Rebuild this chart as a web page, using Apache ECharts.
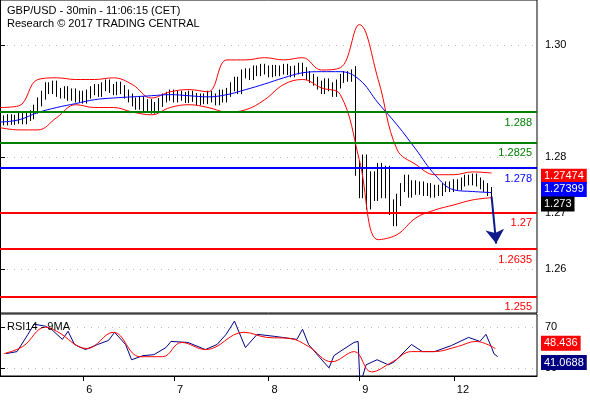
<!DOCTYPE html>
<html><head><meta charset="utf-8">
<script src="https://cdn.jsdelivr.net/npm/echarts@6/dist/echarts.min.js"></script>
<style>html,body{margin:0;background:#fff}#c{width:590px;height:400px}</style>
</head><body><div id="c"></div>
<script>
// 30 min bars, index 0..142 (day labels at fixed bar indices)
const dayTicks = {22: '6', 46: '7', 71: '8', 95: '9', 120: '12'};
const closes = [
  1.2866,1.2864,1.2868,1.2865,1.2867,1.2870,1.2866,1.2872,1.2875,
  1.2885,1.2898,1.2910,1.2925,1.2920,1.2928,1.2915,
  1.2912,1.2918,1.2908,1.2914,1.2905,1.2910,1.2903,1.2912,1.2918,1.2922,1.2915,1.2925,
  1.2930,1.2922,1.2918,1.2926,1.2920,1.2912,
  1.2905,1.2898,1.2892,1.2900,1.2888,1.2895,1.2885,1.2890,1.2897,1.2905,
  1.2908,1.2912,1.2905,1.2910,1.2908,1.2904,1.2910,1.2906,1.2900,1.2905,
  1.2902,1.2910,1.2905,1.2900,1.2912,1.2905,1.2915,1.2925,
  1.2935,1.2920,1.2948,
  1.2950,1.2945,1.2955,1.2952,1.2958,1.2955,1.2950,1.2956,1.2952,1.2955,1.2958,1.2954,1.2950,1.2955,1.2960,1.2952,
  1.2945,1.2940,1.2935,1.2928,1.2920,1.2932,1.2925,1.2915,
  1.2930,1.2940,1.2945,1.2942,1.2948,
  1.2780,1.2740,1.2790,1.2720,1.2760,1.2735,1.2775,1.2740,1.2770,1.2710,1.2690,
  1.2720,1.2745,1.2760,1.2735,1.2750,1.2740,1.2748,1.2738,1.2745,1.2735,1.2742,1.2738,1.2745,
  1.2748,1.2745,1.2752,1.2748,1.2755,1.2760,1.2757,1.2762,1.2755,1.2750,1.2745,1.2738,1.2732
];
const bandIdx = [0,5,10,15,20,25,30,35,40,45,50,55,60,65,70,75,80,85,90,95,100,105,110,115,120,125,130];
const maVals = [1.2862,1.2866,1.2879,1.2888,1.2895,1.2902,1.2905,1.2907,1.2909,1.2911,1.2909,1.2907,1.2911,
  1.2920,1.2930,1.2941,1.2950,1.2952,1.2952,1.2938,1.2896,1.2857,1.2813,1.2768,1.2741,1.2738,1.2736];
const upperVals = [1.2888,1.2891,1.2938,1.2941,1.2938,1.2938,1.2941,1.2929,1.2905,1.2916,1.2920,1.2916,1.2973,
  1.2973,1.2977,1.2973,1.2977,1.2955,1.2959,1.3036,1.2938,1.2813,1.2786,1.2768,1.2768,1.2773,1.2771];
const lowerVals = [1.2852,1.2848,1.2848,1.2870,1.2893,1.2888,1.2888,1.2880,1.2875,1.2888,1.2893,1.2888,1.2880,
  1.2884,1.2902,1.2929,1.2938,1.2923,1.2911,1.2795,1.2652,1.2661,1.2691,1.2705,1.2714,1.2723,1.2727];
const greenLevels = [1.288, 1.2825];
const blueLevels = [1.278];
const redLevels = [1.27, 1.2635, 1.255];
const priceTicks = [1.26, 1.27, 1.28, 1.30];

const rsiIdx = [1.6,4.5,7.4,9,12,13.6,16.5,18,19.7,22.6,25.8,28.7,30.3,33.2,34.8,37.8,40.7,43.9,45.2,49.7,54.3,57.4,59.8,62,
  64.9,68,72.6,78.5,80,81.6,84.6,87,88.3,90.7,93.6,94.7,95.2,96.8,99.7,102.7,104.3,108.8,111.7,114.9,119.4,123.9,126.9,128.5,130,130.6,131.6];
const rsiVals = [44,46,63,73,71,68,58,66,53,48,53,57,65,53,38,42,43,50,56,55,48,53,63,76,
  50,63,61,58,68,53,40,30,42,48,55,56,13,33,38,33,36,53,46,46,52,60,56,63,50,44,41];
const rsiMaIdx = [1,6,12,15,23,30,37,43,48,54.4,64.5,70.5,76.6,81.6,87.7,93.7,98.2,103.8,108.8,114.8,121,125.9,131];
const rsiMaVals = [44,51,70,66,49,65,41,41,55,48,65,60,59,51,36,46,26,36,46,46,51,56,49];

const N = 143;
const cats = Array.from({length: N}, (_, i) => i);
const candles = closes.map((c, i) => {
  const o = i ? closes[i - 1] : c;
  const w = (i >= 94 && i <= 105) ? 0.0014 : 0.0008;
  return [o, c, Math.min(o, c) - w, Math.max(o, c) + w];
});
const pairs = (xs, ys) => xs.map((x, i) => [x, ys[i]]);
const txt = {color: '#000', fontSize: 11, fontFamily: 'Liberation Sans'};
const lvl = (v, color) => ({yAxis: v, lineStyle: {color, width: 2, type: 'solid'},
  label: {show: true, position: 'insideEndBottom', formatter: String(v), color, fontSize: 11, fontFamily: 'Liberation Sans'}});
const tag = (v, bg, txtv, dy) => ({yAxis: v, lineStyle: {color: 'rgba(0,0,0,0)', width: 0},
  label: {show: true, position: 'end', formatter: txtv, color: '#fff', backgroundColor: bg, padding: [2, 3],
    distance: 4, fontSize: 11, fontFamily: 'Liberation Sans', offset: [0, dy]}});

const chart = echarts.init(document.getElementById('c'));
chart.setOption({
  animation: false,
  title: [
    {text: 'GBP/USD - 30min - 11:06:15 (CET)', left: 2, top: 0, textStyle: {...txt, fontWeight: 'normal'}},
    {text: 'Research © 2017 TRADING CENTRAL', left: 2, top: 13, textStyle: {...txt, fontWeight: 'normal'}},
    {text: 'RSI14 - 9MA', left: 2, top: 316, textStyle: {...txt, fontWeight: 'normal'}}
  ],
  grid: [
    {left: 0, right: 53, top: 0, height: 313, show: true, borderColor: '#000', borderWidth: 1},
    {left: 0, right: 53, top: 314, height: 62, show: true, borderColor: '#000', borderWidth: 1}
  ],
  xAxis: [
    {type: 'category', gridIndex: 0, data: cats, boundaryGap: false, axisLabel: {show: false}, axisTick: {show: false}, axisLine: {show: false}},
    {type: 'value', gridIndex: 0, min: 0, max: 142, show: false},
    {type: 'category', gridIndex: 1, data: cats, boundaryGap: false,
      axisLine: {lineStyle: {color: '#000'}},
      axisTick: {interval: i => dayTicks[i] !== undefined, length: 5, lineStyle: {color: '#000'}},
      axisLabel: {interval: i => dayTicks[i] !== undefined, formatter: (v) => dayTicks[v] || '', ...txt, align: 'left', padding: [0, 0, 0, 3]}},
    {type: 'value', gridIndex: 1, min: 0, max: 142, show: false}
  ],
  yAxis: [
    {type: 'value', gridIndex: 0, position: 'right', min: 1.2521, max: 1.3080,
      axisLine: {show: true, lineStyle: {color: '#000'}},
      axisTick: {customValues: priceTicks, length: 5, lineStyle: {color: '#000'}},
      axisLabel: {customValues: priceTicks, formatter: v => v.toFixed(2), ...txt, margin: 8},
      splitLine: {show: true, lineStyle: {color: '#bbb', type: [1, 6]}}},
    {type: 'value', gridIndex: 1, position: 'right', min: 22, max: 83,
      axisLine: {show: true, lineStyle: {color: '#000'}},
      axisTick: {customValues: [30, 70], length: 5, lineStyle: {color: '#000'}},
      axisLabel: {customValues: [30, 70], ...txt, margin: 8},
      splitLine: {show: true, lineStyle: {color: '#bbb', type: [1, 6]}}}
  ],
  series: [
    {type: 'candlestick', xAxisIndex: 0, yAxisIndex: 0, data: candles, barWidth: 1,
      itemStyle: {color: '#000', color0: '#000', borderColor: '#000', borderColor0: '#000', borderWidth: 1}},
    {type: 'line', xAxisIndex: 1, yAxisIndex: 0, data: pairs(bandIdx, upperVals), smooth: 0.4, symbol: 'none', lineStyle: {color: '#ff0000', width: 1},
      markLine: {symbol: 'none', silent: true, precision: 5, data: [
        ...greenLevels.map(v => lvl(v, '#008000')),
        ...blueLevels.map(v => lvl(v, '#0000ff')),
        ...redLevels.map(v => lvl(v, '#ff0000'))
      ]}},
    {type: 'line', xAxisIndex: 1, yAxisIndex: 0, data: pairs(bandIdx, lowerVals), smooth: 0.4, symbol: 'none', lineStyle: {color: '#ff0000', width: 1},
      markLine: {symbol: 'none', silent: true, precision: 5, data: [
        tag(1.27474, '#ff0000', '1.27474', -10),
        tag(1.27399, '#0000ff', '1.27399', -1),
        tag(1.273, '#000', '1.273', 8)
      ]}},
    {type: 'line', xAxisIndex: 1, yAxisIndex: 0, data: pairs(bandIdx, maVals), smooth: 0.4, symbol: 'none', lineStyle: {color: '#0000ff', width: 1},
      markLine: {silent: true, symbol: ['none', 'arrow'], symbolSize: 14, precision: 5,
        lineStyle: {color: '#0d1a8a', width: 2, type: 'solid'}, label: {show: false},
        data: [[{coord: [130, 1.2729]}, {coord: [131.2, 1.2645]}]]}},
    {type: 'line', xAxisIndex: 3, yAxisIndex: 1, data: pairs(rsiIdx, rsiVals), symbol: 'none', lineStyle: {color: '#000080', width: 1},
      markLine: {symbol: 'none', silent: true, precision: 4, data: [
        tag(48.436, '#ff0000', '48.436', -6), tag(41.0688, '#000080', '41.0688', 6)]}},
    {type: 'line', xAxisIndex: 3, yAxisIndex: 1, data: pairs(rsiMaIdx, rsiMaVals), smooth: 0.4, symbol: 'none', lineStyle: {color: '#ff0000', width: 1}}
  ]
});
</script></body></html>
